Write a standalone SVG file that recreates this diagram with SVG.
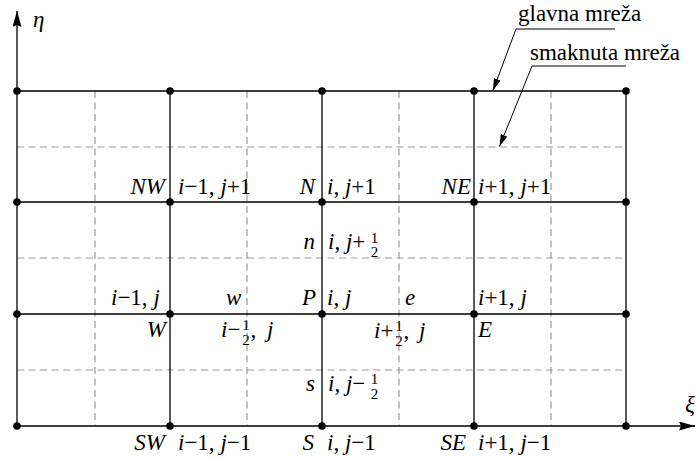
<svg xmlns="http://www.w3.org/2000/svg" width="696" height="459" viewBox="0 0 696 459">
<style>
text{font-family:"Liberation Serif","Times New Roman",serif;font-size:23px;fill:#000}
.it{font-style:italic}
.fr{font-size:15px;text-anchor:middle}
.end{text-anchor:end}
.main{stroke:#000;stroke-width:1.3;fill:none}
.stag{stroke:#9a9a9a;stroke-width:1.2;stroke-dasharray:7 4.5;fill:none}
.dot{fill:#000}
.lead{stroke:#000;stroke-width:1;fill:none}
</style>
<defs>
<marker id="axarr" markerUnits="userSpaceOnUse" viewBox="0 0 16 9" refX="16" refY="4.5" markerWidth="16" markerHeight="9" orient="auto">
<path d="M0,0 L16,4.5 L0,9 L2,4.5 z" fill="#000"/>
</marker>
<marker id="ldarr" markerUnits="userSpaceOnUse" viewBox="0 0 12 7" refX="12" refY="3.5" markerWidth="12" markerHeight="7" orient="auto">
<path d="M0,0 L12,3.5 L0,7 z" fill="#000"/>
</marker>
</defs>

<g id="staggered-grid">
<path class="stag" d="M17,147 H626 M17,258 H626 M17,370 H626"/>
<path class="stag" d="M95,91 V426 M247,91 V426 M399,91 V426 M551,91 V426"/>
</g>

<g id="main-grid">
<path class="main" d="M17,91 H626 M17,202 H626 M17,314 H626"/>
<path class="main" d="M170,91 V426 M322,91 V426 M474,91 V426 M626,91 V426"/>
</g>

<g id="axes">
<line class="main" x1="17" y1="426" x2="17" y2="11" marker-end="url(#axarr)"/>
<line class="main" x1="17" y1="426" x2="695" y2="426" marker-end="url(#axarr)"/>
<text class="it" x="33" y="27">η</text>
<text class="it" x="685" y="412">ξ</text>
</g>

<g id="corner-points">
<circle class="dot" cx="17" cy="91" r="3.8"/>
<circle class="dot" cx="170" cy="91" r="3.8"/>
<circle class="dot" cx="322" cy="91" r="3.8"/>
<circle class="dot" cx="474" cy="91" r="3.8"/>
<circle class="dot" cx="626" cy="91" r="3.8"/>
<circle class="dot" cx="17" cy="202" r="3.8"/>
<circle class="dot" cx="626" cy="202" r="3.8"/>
<circle class="dot" cx="17" cy="314" r="3.8"/>
<circle class="dot" cx="626" cy="314" r="3.8"/>
<circle class="dot" cx="17" cy="426" r="3.8"/>
<circle class="dot" cx="626" cy="426" r="3.8"/>
</g>

<g id="node-NW">
<circle class="dot" cx="170" cy="202" r="3.8"/>
<text class="it end" x="165" y="194">NW</text>
<text x="178" y="194"><tspan class="it">i</tspan>−1, <tspan class="it">j</tspan>+1</text>
</g>
<g id="node-N">
<circle class="dot" cx="322" cy="202" r="3.8"/>
<text class="it end" x="315" y="194">N</text>
<text x="327" y="194"><tspan class="it">i</tspan>, <tspan class="it">j</tspan>+1</text>
</g>
<g id="node-NE">
<circle class="dot" cx="474" cy="202" r="3.8"/>
<text class="it end" x="471" y="194">NE</text>
<text x="478" y="194"><tspan class="it">i</tspan>+1, <tspan class="it">j</tspan>+1</text>
</g>

<g id="node-n">
<text class="it end" x="315" y="249">n</text>
<text x="328" y="249"><tspan class="it">i</tspan>, <tspan class="it">j</tspan>+<tspan class="fr" x="374.5" y="242.5">1</tspan><tspan class="fr" x="374.5" y="257">2</tspan></text>
</g>

<g id="node-W">
<circle class="dot" cx="170" cy="314" r="3.8"/>
<text x="111" y="305"><tspan class="it">i</tspan>−1, <tspan class="it">j</tspan></text>
<text class="it end" x="166" y="337">W</text>
</g>
<g id="node-w">
<text class="it" x="226" y="305">w</text>
<text x="221" y="337"><tspan class="it">i</tspan>−<tspan class="fr" x="246" y="329.5">1</tspan><tspan class="fr" x="246" y="344.5">2</tspan><tspan x="250.5" y="337">,</tspan><tspan class="it" x="267" y="337">j</tspan></text>
</g>
<g id="node-P">
<circle class="dot" cx="322" cy="314" r="3.8"/>
<text class="it end" x="316" y="305">P</text>
<text x="327" y="305"><tspan class="it">i</tspan>, <tspan class="it">j</tspan></text>
</g>
<g id="node-e">
<text class="it" x="405" y="305">e</text>
<text x="374" y="338"><tspan class="it">i</tspan>+<tspan class="fr" x="399" y="330.5">1</tspan><tspan class="fr" x="399" y="345.5">2</tspan><tspan x="403.5" y="338">,</tspan><tspan class="it" x="419" y="338">j</tspan></text>
</g>
<g id="node-E">
<circle class="dot" cx="474" cy="314" r="3.8"/>
<text x="478" y="305"><tspan class="it">i</tspan>+1, <tspan class="it">j</tspan></text>
<text class="it" x="478" y="337">E</text>
</g>

<g id="node-s">
<text class="it end" x="315" y="391">s</text>
<text x="328" y="391"><tspan class="it">i</tspan>, <tspan class="it">j</tspan>−<tspan class="fr" x="374.5" y="384">1</tspan><tspan class="fr" x="374.5" y="398.5">2</tspan></text>
</g>

<g id="node-SW">
<circle class="dot" cx="170" cy="426" r="3.8"/>
<text class="it end" x="165" y="450">SW</text>
<text x="178" y="450"><tspan class="it">i</tspan>−1, <tspan class="it">j</tspan>−1</text>
</g>
<g id="node-S">
<circle class="dot" cx="322" cy="426" r="3.8"/>
<text class="it end" x="314" y="450">S</text>
<text x="327" y="450"><tspan class="it">i</tspan>, <tspan class="it">j</tspan>−1</text>
</g>
<g id="node-SE">
<circle class="dot" cx="474" cy="426" r="3.8"/>
<text class="it end" x="466" y="450">SE</text>
<text x="478" y="450"><tspan class="it">i</tspan>+1, <tspan class="it">j</tspan>−1</text>
</g>

<g id="connectors">
<path class="lead" d="M615,29 L516,29 L493,90.5" marker-end="url(#ldarr)"/>
<path class="lead" d="M626,66 L532,66 L499.5,146.5" marker-end="url(#ldarr)"/>
<text x="518" y="21">glavna mreža</text>
<text x="530" y="60">smaknuta mreža</text>
</g>
</svg>
